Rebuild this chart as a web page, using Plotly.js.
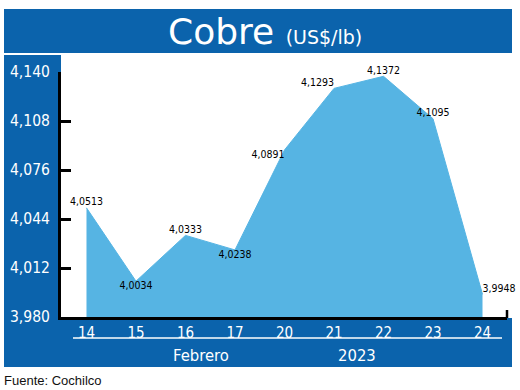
<!DOCTYPE html>
<html>
<head>
<meta charset="utf-8">
<script src="https://cdn.plot.ly/plotly-3.0.1.min.js"></script>
<style>
  html, body { margin: 0; padding: 0; background: #ffffff; }
  #chart { width: 520px; height: 390px; }
</style>
</head>
<body>
<div id="chart"></div>
<script>
// ---- data ----
const days = ['14', '15', '16', '17', '20', '21', '22', '23', '24'];
const prices = [4.0513, 4.0034, 4.0333, 4.0238, 4.0891, 4.1293, 4.1372, 4.1095, 3.9948];
const yTicks = [3.980, 4.012, 4.044, 4.076, 4.108, 4.140];
const titleMain = 'Cobre';
const titleUnit = '(US$/lb)';
const monthLabel = 'Febrero';
const yearLabel = '2023';
const sourceLabel = 'Fuente: Cochilco';

// ---- styling ----
const DARK = '#0b63ac';
const LIGHT = '#56b4e3';
const NARROW = '"DejaVu Sans Condensed", "Liberation Sans Narrow", sans-serif';

const W = 520, H = 390;
const M = { l: 61, r: 13, t: 72, b: 73 };
const PW = W - M.l - M.r, PH = H - M.t - M.b;
const X = px => (px - M.l) / PW;
const Y = py => (H - M.b - py) / PH;

const labelPos = ['top center', 'bottom center', 'top center', 'bottom center',
                  'bottom left', 'top left', 'top center', 'top center', 'top right'];

const trace = {
  x: days,
  y: prices,
  type: 'scatter',
  mode: 'lines+text',
  fill: 'tozeroy',
  fillcolor: LIGHT,
  line: { color: LIGHT, width: 1 },
  text: prices.map(v => v.toFixed(4).replace('.', ',')),
  textposition: labelPos,
  textfont: { family: NARROW, size: 10.5, color: '#000000' },
  cliponaxis: false,
  hoverinfo: 'skip'
};

const rect = (x0, y0, x1, y1, color) => ({
  type: 'rect', xref: 'paper', yref: 'paper', layer: 'below',
  x0: X(x0), x1: X(x1), y0: Y(y0), y1: Y(y1),
  fillcolor: color, line: { width: 0 }
});

const layout = {
  width: W, height: H,
  margin: M,
  paper_bgcolor: '#ffffff',
  plot_bgcolor: 'rgba(0,0,0,0)',
  separators: ',.',
  showlegend: false,
  xaxis: {
    type: 'category',
    range: [-0.515, 8.495],
    showgrid: false, zeroline: false,
    showline: true, linecolor: '#000000', linewidth: 3,
    ticks: '',
    tickfont: { family: NARROW, size: 15, color: '#ffffff' },
    fixedrange: true
  },
  yaxis: {
    range: [3.98, 4.14],
    tickvals: yTicks,
    tickformat: '.3f',
    showgrid: false, zeroline: false,
    showline: true, linecolor: '#000000', linewidth: 3,
    ticks: 'inside', ticklen: 10, tickwidth: 3, tickcolor: '#000000',
    ticklabelstandoff: 5,
    tickfont: { family: NARROW, size: 15.5, color: '#ffffff' },
    fixedrange: true
  },
  shapes: [
    rect(4, 9, 512, 53, DARK),      // title bar
    rect(4, 55, 61, 367, DARK),     // left band
    rect(4, 318, 512, 367, DARK),   // bottom band
    { type: 'line', xref: 'paper', yref: 'paper',
      x0: X(73), x1: X(502), y0: Y(338), y1: Y(338),
      line: { color: '#ffffff', width: 1.5 } },
    { type: 'line', xref: 'paper', yref: 'paper',
      x0: X(507), x1: X(507), y0: Y(318), y1: Y(310),
      line: { color: '#000000', width: 2.5 } }
  ],
  annotations: [
    { xref: 'paper', yref: 'paper', x: X(265), y: Y(31),
      xanchor: 'center', yanchor: 'middle', showarrow: false,
      text: titleMain + ' <span style="font-size:19px">' + titleUnit + '</span>',
      font: { family: '"DejaVu Sans", sans-serif', size: 36, color: '#ffffff' } },
    { xref: 'paper', yref: 'paper', x: X(201), y: Y(355),
      xanchor: 'center', yanchor: 'middle', showarrow: false,
      text: monthLabel, font: { family: NARROW, size: 16.5, color: '#ffffff' } },
    { xref: 'paper', yref: 'paper', x: X(357), y: Y(355),
      xanchor: 'center', yanchor: 'middle', showarrow: false,
      text: yearLabel, font: { family: NARROW, size: 16.5, color: '#ffffff' } },
    { xref: 'paper', yref: 'paper', x: X(2), y: Y(380),
      xanchor: 'left', yanchor: 'middle', showarrow: false,
      text: sourceLabel, font: { family: '"Liberation Sans", sans-serif', size: 13, color: '#111111' } }
  ]
};

Plotly.newPlot('chart', [trace], layout, { displayModeBar: false, staticPlot: true });
</script>
</body>
</html>
